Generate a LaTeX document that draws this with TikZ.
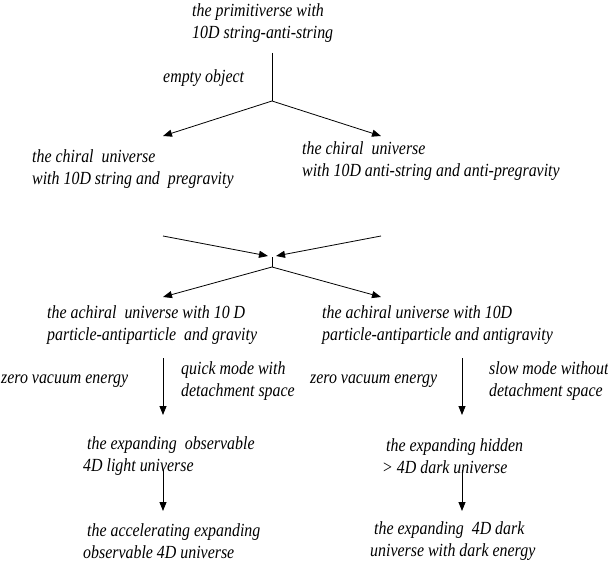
\documentclass[tikz,border=0pt]{standalone}
\usepackage{fontspec}
\setmainfont{Liberation Serif}
\newfontfamily\reffont[FakeStretch=0.86]{Liberation Serif}
\usetikzlibrary{arrows.meta}
\begin{document}
\begin{tikzpicture}[x=1pt,y=-1pt,
  txt/.style={anchor=west,inner sep=0pt,align=left,font=\reffont\fontsize{18.5}{22}\selectfont\itshape},
  ln/.style={line width=0.8pt},
  arr/.style={line width=0.8pt,-{Triangle[length=9pt,width=7pt]}}]
\useasboundingbox (0,0) rectangle (608,567);
% texts
\node[txt] (top) at (192,23) {the primitiverse with\\10D string-anti-string};
\node[txt] (empty) at (163,78) {empty object};
\node[txt] (chL) at (32,169) {the chiral\ \ universe\\with 10D string and\ \ pregravity};
\node[txt] (chR) at (302,161) {the chiral\ \ universe\\with 10D anti-string and anti-pregravity};
\node[txt] (acL) at (47,325) {the achiral\ \ universe with 10 D\\particle-antiparticle\ \ and gravity};
\node[txt] (acR) at (322,325) {the achiral universe with 10D\\particle-antiparticle and antigravity};
\node[txt] (zL) at (1,381) {zero vacuum energy};
\node[txt] (quick) at (181,381) {quick mode with\\detachment space};
\node[txt] (zR) at (310,381) {zero vacuum energy};
\node[txt] (slow) at (489,381) {slow mode without\\detachment space};
\node[txt] (exL) at (83,456) {\ the expanding\ \ observable\\4D light universe};
\node[txt] (exR) at (382,456) {\ the expanding hidden\\{>} 4D dark universe};
\node[txt] (aL) at (83,541) {\ the accelerating expanding\\observable 4D universe};
\node[txt] (aR) at (370,541) {\ the expanding\ \ 4D dark\\universe with dark energy};
% coordinates
\coordinate (t0) at (272,53);
\coordinate (t1) at (272,101);
\coordinate (t2) at (163,136);
\coordinate (t3) at (381,136);
\coordinate (c1) at (163,236);
\coordinate (c2) at (381,236);
\coordinate (c3) at (268,256);
\coordinate (c4) at (276,256);
\coordinate (m0) at (272,257);
\coordinate (m1) at (272,267);
\coordinate (m2) at (163,297);
\coordinate (m3) at (381,297);
\coordinate (l0) at (163,358);
\coordinate (l1) at (163,415);
\coordinate (r0) at (462,358);
\coordinate (r1) at (462,415);
\coordinate (l2) at (163,470);
\coordinate (l3) at (163,511);
\coordinate (r2) at (462,470);
\coordinate (r3) at (462,511);
% connectors
\draw[ln] (t0) -- (t1);
\draw[arr] (t1) -- (t2);
\draw[arr] (t1) -- (t3);
\draw[arr] (c1) -- (c3);
\draw[arr] (c2) -- (c4);
\draw[ln] (m0) -- (m1);
\draw[arr] (m1) -- (m2);
\draw[arr] (m1) -- (m3);
\draw[arr] (l0) -- (l1);
\draw[arr] (r0) -- (r1);
\draw[arr] (l2) -- (l3);
\draw[arr] (r2) -- (r3);
\end{tikzpicture}
\end{document}
